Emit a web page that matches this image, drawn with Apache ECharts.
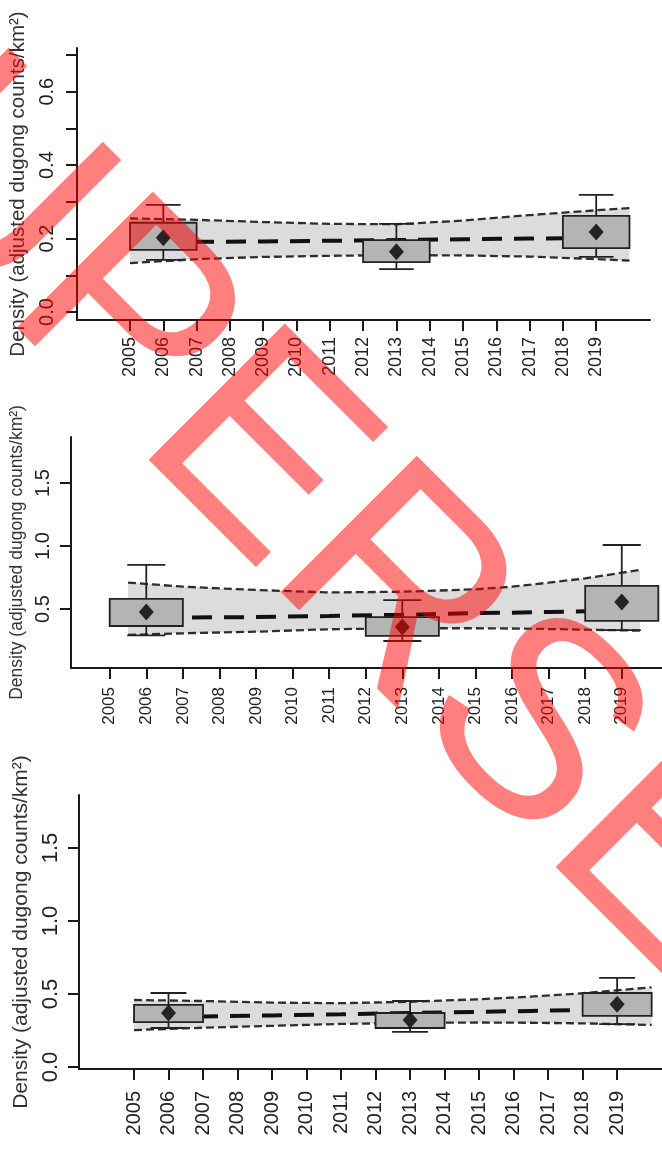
<!DOCTYPE html>
<html><head><meta charset="utf-8">
<script src="https://cdn.jsdelivr.net/npm/echarts@6/dist/echarts.min.js"></script>
<style>html,body{margin:0;padding:0;background:#fff}#c{width:662px;height:1164px}</style>
</head><body><div id="c"></div>
<script>
// ---------- data ----------
const yearTicks = [2005,2006,2007,2008,2009,2010,2011,2012,2013,2014,2015,2016,2017,2018,2019];
const boxYears = [2006, 2013, 2019];
const yTitle = 'Density (adjusted dugong counts/km\u00B2)';
const watermark = 'SUPERSEDED';

// Panel A
const aTrendYears = [2005, 2007, 2009, 2011, 2013, 2015, 2017, 2019, 2020];
const aUpper = [0.255, 0.251, 0.245, 0.240, 0.239, 0.249, 0.264, 0.277, 0.283];
const aLower = [0.133, 0.144, 0.150, 0.153, 0.155, 0.154, 0.151, 0.144, 0.140];
const aTrend = [0.190, 0.191, 0.192, 0.194, 0.196, 0.198, 0.200, 0.202, 0.203];
const aBoxLow = [0.169, 0.136, 0.174];
const aBoxHigh = [0.243, 0.196, 0.262];
const aWhiskLow = [0.142, 0.117, 0.150];
const aWhiskHigh = [0.292, 0.240, 0.319];
const aMean = [0.202, 0.164, 0.218];
const aYTicks = [0, 0.1, 0.2, 0.3, 0.4, 0.5, 0.6, 0.7];
const aYLabels = [0, 0.2, 0.4, 0.6];

// Panel B
const bTrendYears = [2005.5, 2007, 2009, 2011, 2013, 2015, 2016, 2017, 2018, 2019.5];
const bUpper = [0.710, 0.677, 0.651, 0.631, 0.637, 0.656, 0.677, 0.709, 0.743, 0.810];
const bLower = [0.294, 0.307, 0.320, 0.339, 0.347, 0.347, 0.345, 0.341, 0.336, 0.328];
const bTrend = [0.425, 0.432, 0.436, 0.444, 0.455, 0.467, 0.471, 0.476, 0.482, 0.490];
const bBoxLow = [0.365, 0.286, 0.405];
const bBoxHigh = [0.580, 0.436, 0.683];
const bWhiskLow = [0.290, 0.246, 0.333];
const bWhiskHigh = [0.850, 0.570, 1.008];
const bMean = [0.476, 0.357, 0.555];
const bYTicks = [0.5, 1.0, 1.5];
const bYLabels = [0.5, 1.0, 1.5];

// Panel C
const cTrendYears = [2005, 2007, 2009, 2011, 2013, 2015, 2016.5, 2018, 2020];
const cUpper = [0.459, 0.452, 0.441, 0.437, 0.447, 0.464, 0.482, 0.505, 0.546];
const cLower = [0.253, 0.269, 0.282, 0.295, 0.302, 0.305, 0.303, 0.299, 0.288];
const cTrend = [0.340, 0.346, 0.353, 0.361, 0.370, 0.378, 0.384, 0.390, 0.400];
const cBoxLow = [0.308, 0.267, 0.350];
const cBoxHigh = [0.425, 0.370, 0.507];
const cWhiskLow = [0.267, 0.240, 0.294];
const cWhiskHigh = [0.507, 0.452, 0.610];
const cMean = [0.370, 0.322, 0.430];
const cYTicks = [0, 0.5, 1.0, 1.5];
const cYLabels = [0, 0.5, 1.0, 1.5];

// ---------- layout (not data) ----------
const panels = [
  {grid:{left:77, top:48, width:573, height:272}, xMin:2003.408, xMax:2020.616, yMin:-0.0218, yMax:0.719,
   trendYears:aTrendYears, upper:aUpper, lower:aLower, trend:aTrend, boxLow:aBoxLow, boxHigh:aBoxHigh,
   whiskLow:aWhiskLow, whiskHigh:aWhiskHigh, mean:aMean, yTicks:aYTicks, yLabels:aYLabels,
   xFont:18, xMargin:17, yFont:20, yMargin:20, titleFont:20.5, titleGap:36},
  {grid:{left:68, top:437, width:594, height:231}, xMin:2003.939, xMax:2020.10, yMin:0.0317, yMax:1.865,
   trendYears:bTrendYears, upper:bUpper, lower:bLower, trend:bTrend, boxLow:bBoxLow, boxHigh:bBoxHigh,
   whiskLow:bWhiskLow, whiskHigh:bWhiskHigh, mean:bMean, yTicks:bYTicks, yLabels:bYLabels,
   xFont:17, xMargin:19, yFont:20, yMargin:17, titleFont:17.5, titleGap:39},
  {grid:{left:79, top:795, width:583, height:274}, xMin:2003.406, xMax:2020.30, yMin:-0.0137, yMax:1.863,
   trendYears:cTrendYears, upper:cUpper, lower:cLower, trend:cTrend, boxLow:cBoxLow, boxHigh:cBoxHigh,
   whiskLow:cWhiskLow, whiskHigh:cWhiskHigh, mean:cMean, yTicks:cYTicks, yLabels:cYLabels,
   xFont:20, xMargin:22, yFont:22, yMargin:17, titleFont:21, titleGap:38}
];

const BOX_HALF = 1.0, CAP_HALF = 0.52;
const AX = '#1a1a1a';
const FONT = '"Liberation Sans", Arial, Helvetica, sans-serif';

const grids = [], xAxes = [], yAxes = [], series = [];
panels.forEach((p, i) => {
  grids.push(Object.assign({containLabel:false}, p.grid));
  xAxes.push({
    type:'value', gridIndex:i, min:p.xMin, max:p.xMax,
    splitLine:{show:false},
    axisLine:{show:true, onZero:false, lineStyle:{color:AX, width:2}},
    axisTick:{show:true, length:11, customValues:yearTicks, lineStyle:{color:AX, width:2}},
    axisLabel:{show:true, customValues:yearTicks, rotate:90, margin:p.xMargin, fontSize:p.xFont,
      fontFamily:FONT, color:'#222', formatter:v => String(Math.round(v))}
  });
  yAxes.push({
    type:'value', gridIndex:i, min:p.yMin, max:p.yMax,
    splitLine:{show:false},
    axisLine:{show:true, onZero:false, lineStyle:{color:AX, width:2}},
    axisTick:{show:true, length:11, customValues:p.yTicks, lineStyle:{color:AX, width:2}},
    axisLabel:{show:true, customValues:p.yLabels, rotate:90, margin:p.yMargin, fontSize:p.yFont,
      fontFamily:FONT, color:'#222', formatter:v => v.toFixed(1)},
    name:yTitle, nameLocation:'middle', nameRotate:90, nameGap:p.titleGap,
    nameTextStyle:{fontSize:p.titleFont, fontFamily:FONT, color:'#333'}
  });
  // confidence band
  series.push({
    type:'custom', xAxisIndex:i, yAxisIndex:i, z:1, silent:true, clip:false,
    data:[[p.trendYears[0], p.upper[0]]],
    renderItem:function(params, api){
      const pts = [];
      p.trendYears.forEach((yr, k) => pts.push(api.coord([yr, p.upper[k]])));
      for (let k = p.trendYears.length - 1; k >= 0; k--) pts.push(api.coord([p.trendYears[k], p.lower[k]]));
      return {type:'polygon', shape:{points:pts}, style:{fill:'#dcdcdc'}};
    }
  });
  // trend line
  series.push({
    type:'line', xAxisIndex:i, yAxisIndex:i, z:2, silent:true, symbol:'none',
    data:p.trendYears.map((yr, k) => [yr, p.trend[k]]),
    lineStyle:{color:'#111', width:4, type:[20,12]}
  });
  // CI lines
  [p.upper, p.lower].forEach(arr => {
    series.push({
      type:'line', xAxisIndex:i, yAxisIndex:i, z:3, silent:true, symbol:'none',
      data:p.trendYears.map((yr, k) => [yr, arr[k]]),
      lineStyle:{color:'#2e2e2e', width:2.3, type:[8,4]}
    });
  });
  // boxes with whiskers
  series.push({
    type:'custom', xAxisIndex:i, yAxisIndex:i, z:4, silent:true,
    data:boxYears.map((yr, k) => [yr, p.boxLow[k], p.boxHigh[k], p.whiskLow[k], p.whiskHigh[k]]),
    renderItem:function(params, api){
      const yr = api.value(0), lo = api.value(1), hi = api.value(2), wl = api.value(3), wh = api.value(4);
      const ll = api.coord([yr - BOX_HALF, lo]), ur = api.coord([yr + BOX_HALF, hi]);
      const top = api.coord([yr, wh]), bot = api.coord([yr, wl]);
      const cl = api.coord([yr - CAP_HALF, wh])[0], cr = api.coord([yr + CAP_HALF, wh])[0];
      const ls = {stroke:'#222', lineWidth:1.8};
      return {type:'group', children:[
        {type:'line', shape:{x1:top[0], y1:top[1], x2:bot[0], y2:bot[1]}, style:ls},
        {type:'line', shape:{x1:cl, y1:top[1], x2:cr, y2:top[1]}, style:ls},
        {type:'line', shape:{x1:cl, y1:bot[1], x2:cr, y2:bot[1]}, style:ls},
        {type:'rect', shape:{x:ll[0], y:ur[1], width:ur[0]-ll[0], height:ll[1]-ur[1]},
         style:{fill:'#b4b4b4', stroke:'#222', lineWidth:1.8}}
      ]};
    }
  });
  // means
  series.push({
    type:'scatter', xAxisIndex:i, yAxisIndex:i, z:5, silent:true,
    symbol:'diamond', symbolSize:[15,17], itemStyle:{color:'#000'},
    data:boxYears.map((yr, k) => [yr, p.mean[k]])
  });
});

const chart = echarts.init(document.getElementById('c'), null, {renderer:'canvas'});
chart.setOption({
  animation:false,
  backgroundColor:'#fff',
  grid:grids, xAxis:xAxes, yAxis:yAxes, series:series,
  graphic:[{
    type:'text', x:462, y:664, rotation:-Math.PI/4, z:100, silent:true,
    style:{text:watermark, fontSize:280, fontFamily:FONT, fill:'rgba(255,0,0,0.5)',
      align:'center', verticalAlign:'middle', textAlign:'center', textVerticalAlign:'middle'}
  }]
});
</script></body></html>
